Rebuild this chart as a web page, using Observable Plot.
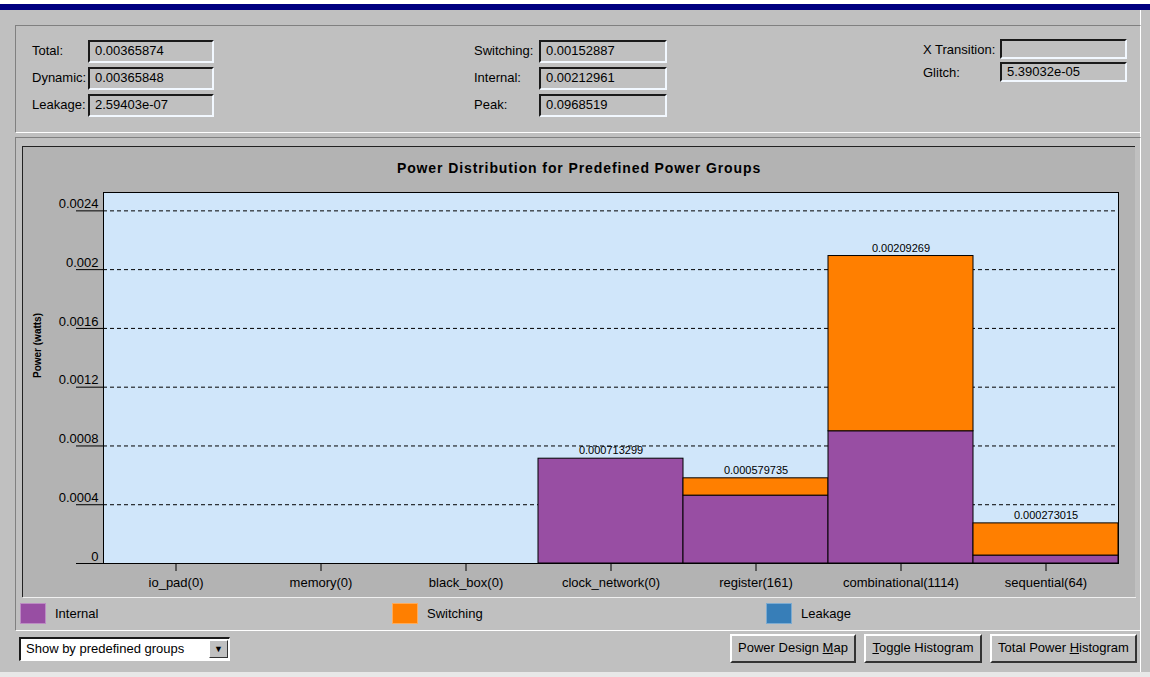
<!DOCTYPE html>
<html><head><meta charset="utf-8">
<script src="https://cdn.jsdelivr.net/npm/d3@7"></script>
<script src="https://cdn.jsdelivr.net/npm/@observablehq/plot@0.6"></script>
<style>
html,body{margin:0;padding:0}
body{width:1150px;height:677px;background:#c0c0c0;font-family:"Liberation Sans",Arial,sans-serif;font-size:13px;color:#000;position:relative;overflow:hidden}
.abs{position:absolute}
.lbl{position:absolute;white-space:nowrap;line-height:22px;height:22px}
.field{position:absolute;box-sizing:border-box;height:23px;border-top:2px solid #1a1a1a;border-left:2px solid #1a1a1a;border-bottom:2px solid #f2f8ff;border-right:2px solid #f2f8ff;background:#c0c0c0;padding-left:5px;line-height:18px;white-space:nowrap}
.groove{position:absolute;box-sizing:border-box;border-top:1px solid #808080;border-left:1px solid #808080;border-bottom:1px solid #ffffff;border-right:1px solid #ffffff}
.btn{position:absolute;box-sizing:border-box;height:29px;top:634px;border-top:2px solid #fff;border-left:2px solid #fff;border-bottom:2px solid #333;border-right:2px solid #333;background:#c0c0c0;text-align:center;line-height:24px;white-space:nowrap}
.legsw{position:absolute;width:26px;height:21px;top:603px;box-sizing:border-box;border:1px solid rgba(255,255,255,0.35)}
.legtx{position:absolute;top:603px;line-height:21px;white-space:nowrap}
</style>
</head><body>
<div class="abs" style="left:0;top:0;width:1150px;height:4px;background:#fff"></div>
<div class="abs" style="left:0;top:4px;width:1150px;height:6px;background:#000080"></div>
<div class="abs" style="left:1140px;top:10px;width:1px;height:667px;background:#fff"></div>
<div class="abs" style="left:0;top:672px;width:1150px;height:5px;background:#e8e8e8"></div>

<!-- top summary panel -->
<div class="groove" style="left:15px;top:25px;width:1126px;height:108px"></div>
<div id="summary"></div>

<!-- chart panel -->
<div class="groove" style="left:15px;top:137px;width:1126px;height:494px"></div>
<div class="abs" style="left:22px;top:146px;width:1113px;height:451px;background:#b3b3b3;box-sizing:border-box;border-top:1px solid #222;border-left:1px solid #222;"></div>
<div class="abs" style="left:23px;top:597px;width:1113px;height:1px;background:#f0f0f0"></div>
<div id="title" class="abs" style="left:23px;top:158px;width:1112px;text-align:center;font-weight:bold;font-size:14px;letter-spacing:0.9px;line-height:20px">Power Distribution for Predefined Power Groups</div>
<div id="chart" class="abs" style="left:23px;top:147px;"></div>
<div id="legend"></div>

<!-- bottom controls -->
<div class="abs" style="left:19px;top:637px;width:211px;height:24px;box-sizing:border-box;border-top:2px solid #1a1a1a;border-left:2px solid #1a1a1a;border-bottom:1px solid #fff;border-right:1px solid #fff;background:#fff;"></div>
<div class="abs" style="left:26px;top:639px;line-height:20px;white-space:nowrap">Show by predefined groups</div>
<div class="abs" style="left:209px;top:640px;width:19px;height:18px;box-sizing:border-box;border-top:1px solid #fff;border-left:1px solid #fff;border-bottom:1px solid #333;border-right:1px solid #333;background:#c0c0c0;text-align:center;line-height:16px;font-size:9px">&#9660;</div>
<div class="btn" style="left:730px;width:126px">Power Design <u>M</u>ap</div>
<div class="btn" style="left:864px;width:118px"><u>T</u>oggle Histogram</div>
<div class="btn" style="left:990px;width:147px">Total Power <u>H</u>istogram</div>

<script>
// ---- summary numbers ----
const summaryLabels = ["Total:", "Dynamic:", "Leakage:", "Switching:", "Internal:", "Peak:", "X Transition:", "Glitch:"];
const summaryValues = ["0.00365874", "0.00365848", "2.59403e-07", "0.00152887", "0.00212961", "0.0968519", "", "5.39032e-05"];

// ---- chart data ----
const categories = ["io_pad(0)", "memory(0)", "black_box(0)", "clock_network(0)", "register(161)", "combinational(1114)", "sequential(64)"];
const totalValues = [0, 0, 0, 0.000713299, 0.000579735, 0.00209269, 0.000273015];
const internalValues = [0, 0, 0, 0.000713299, 0.000462, 0.000900, 0.000054];
const leakageValues = [0, 0, 0, 0, 0, 0, 0];
const totalLabels = ["", "", "", "0.000713299", "0.000579735", "0.00209269", "0.000273015"];
const seriesNames = ["Internal", "Switching", "Leakage"];
const seriesColors = ["#984ea3", "#ff7f00", "#377eb8"];
const yTicks = [0, 0.0004, 0.0008, 0.0012, 0.0016, 0.002, 0.0024];
const yTickLabels = ["0", "0.0004", "0.0008", "0.0012", "0.0016", "0.002", "0.0024"];
const yMax = 0.002525;

// summary layout
const sumPos = [
  [32, 88, 40, 126], [32, 88, 67, 126], [32, 88, 94, 126],
  [474, 539, 40, 128], [474, 539, 67, 128], [474, 539, 94, 128],
  [923, 1000, 39, 127], [923, 1000, 62, 127]
];
const sumEl = document.getElementById("summary");
summaryLabels.forEach((l, i) => {
  const [lx, fx, y, w] = sumPos[i];
  const a = document.createElement("div");
  a.className = "lbl"; a.style.left = lx + "px"; a.style.top = y + "px"; a.textContent = l;
  const f = document.createElement("div");
  f.className = "field"; f.style.left = fx + "px"; f.style.top = y + "px"; f.style.width = w + "px";
  if (i >= 6) f.style.height = "20px", f.style.lineHeight = "15px";
  f.textContent = summaryValues[i];
  sumEl.appendChild(a); sumEl.appendChild(f);
});

// rows
const rows = [];
categories.forEach((c, i) => {
  const internal = internalValues[i];
  const leakage = leakageValues[i];
  const switching = Math.max(0, totalValues[i] - internal - leakage);
  rows.push({category: c, series: "Internal", value: internal});
  rows.push({category: c, series: "Switching", value: switching});
  rows.push({category: c, series: "Leakage", value: leakage});
});
const labelRows = categories.map((c, i) => ({category: c, total: totalValues[i], label: totalLabels[i]})).filter(d => d.label);

const chart = Plot.plot({
  width: 1112, height: 449,
  marginLeft: 80, marginRight: 17, marginTop: 45, marginBottom: 33,
  style: {background: "transparent", fontFamily: "'Liberation Sans', Arial, sans-serif", fontSize: "13px", color: "#000", overflow: "visible"},
  x: {domain: categories, padding: 0, axis: null},
  y: {domain: [0, yMax], axis: null},
  color: {domain: seriesNames, range: seriesColors},
  marks: [
    Plot.frame({fill: "#d0e6fa", stroke: null}),
    Plot.gridY(yTicks.filter(d => d > 0), {stroke: "#000", strokeOpacity: 1, strokeDasharray: "4,3"}),
    Plot.barY(rows.filter(d => d.value > 0), {x: "category", y: "value", fill: "series", stroke: "#000", strokeWidth: 1, order: seriesNames, insetLeft: 0, insetRight: 0}),
    Plot.text(labelRows, {x: "category", y: "total", text: "label", dy: -8, fontSize: 11, fill: "#000"}),
    Plot.frame({stroke: "#000"}),
    Plot.axisY({ticks: yTicks, tickSize: 27, tickFormat: () => "", stroke: "#000"}),
    Plot.axisY({ticks: yTicks, tickSize: 0, tickPadding: 5, dy: -7, tickFormat: d => yTickLabels[yTicks.indexOf(d)], fontSize: 13, label: null}),
    Plot.axisX({tickSize: 8, tickPadding: 6, fontSize: 13, label: null}),
    Plot.text(["Power (watts)"], {frameAnchor: "left", rotate: -90, dx: -66, fontWeight: "bold", fontSize: 10, fill: "#000", letterSpacing: "0.6px"})
  ]
});
document.getElementById("chart").appendChild(chart);

// legend
const legX = [20, 392, 766];
const legEl = document.getElementById("legend");
seriesNames.forEach((s, i) => {
  const sw = document.createElement("div");
  sw.className = "legsw"; sw.style.left = legX[i] + "px"; sw.style.background = seriesColors[i];
  const tx = document.createElement("div");
  tx.className = "legtx"; tx.style.left = (legX[i] + 35) + "px"; tx.textContent = s;
  legEl.appendChild(sw); legEl.appendChild(tx);
});
</script>
</body></html>
